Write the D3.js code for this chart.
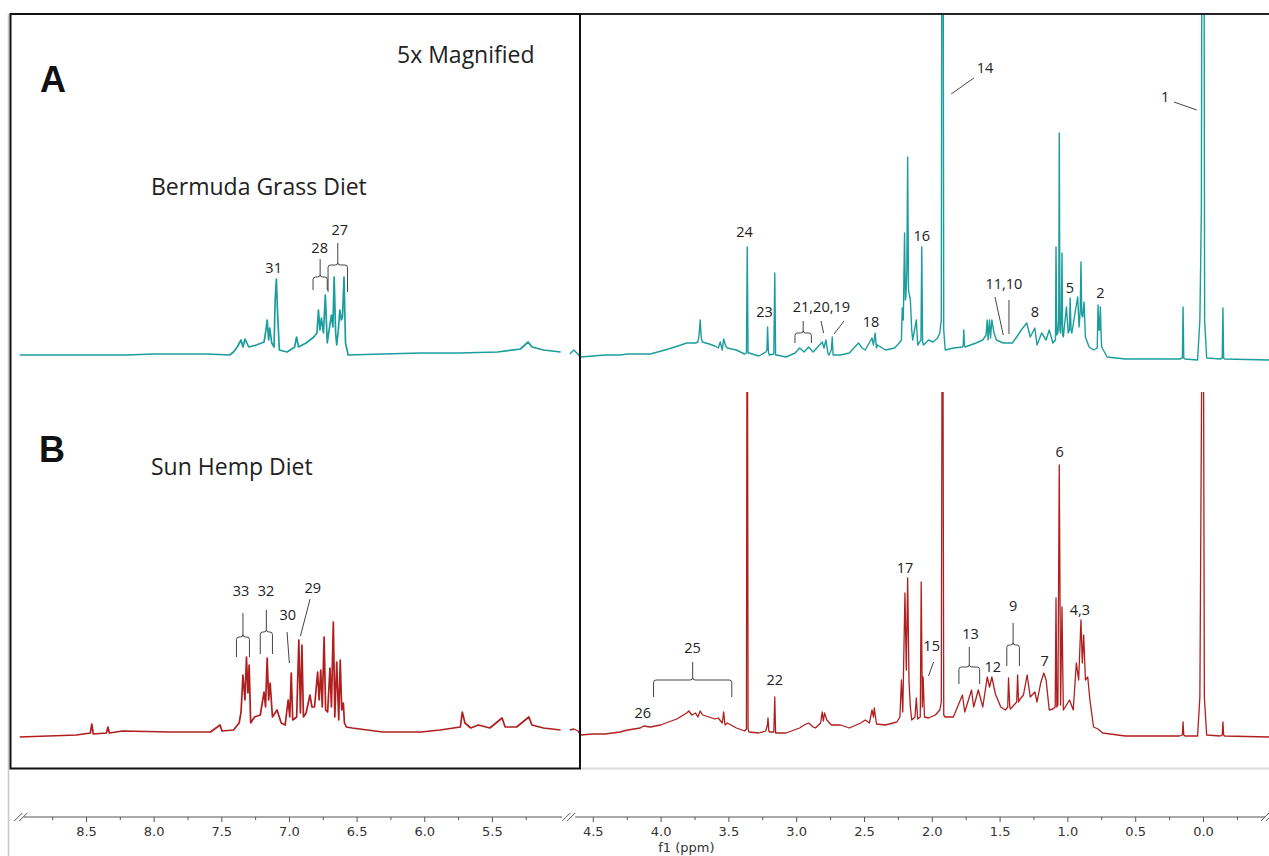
<!DOCTYPE html>
<html><head><meta charset="utf-8">
<script src="https://cdn.jsdelivr.net/npm/d3@7"></script>
<style>body{margin:0;background:#fff;}svg{display:block;}</style>
</head><body>
<svg id="c" width="1269" height="856"></svg>
<script>
// ---------- DATA (ppm, intensity) ----------
// Spectrum A (Bermuda Grass Diet) – aromatic region, 5x magnified
const specA_left = [[8.99,5],[8.80,5],[8.60,5],[8.40,5],[8.20,5],[8.00,6],[7.80,6],[7.60,6],[7.438,5],[7.41,8],[7.382,13],[7.354,20],[7.34,13],[7.325,21],[7.297,13],[7.241,15],[7.184,18],[7.17,30],[7.161,40],[7.15,20],[7.142,32],[7.127,17],[7.11,13],[7.102,60],[7.093,81],[7.085,50],[7.071,10],[7.014,8],[6.958,13],[6.944,23],[6.929,13],[6.873,17],[6.816,23],[6.793,27],[6.782,50],[6.771,30],[6.76,42],[6.745,27],[6.731,65],[6.717,17],[6.703,30],[6.686,45],[6.675,33],[6.666,83],[6.655,27],[6.647,15],[6.635,30],[6.624,50],[6.613,40],[6.604,43],[6.593,83],[6.582,17],[6.562,5],[6.307,6],[6.024,7],[5.741,7],[5.459,8],[5.289,11],[5.232,18],[5.204,13],[5.119,10],[4.992,8]];
// Spectrum A – aliphatic region
const specA_right = [[4.669,6],[4.64,10],[4.61,6],[4.592,3],[4.5,4],[4.409,5],[4.3,5],[4.242,6],[4.15,6],[4.075,6],[3.942,11],[3.85,15],[3.808,17],[3.742,17],[3.725,18],[3.716,25],[3.708,40],[3.7,22],[3.692,18],[3.642,16],[3.6,14],[3.575,12],[3.56,18],[3.545,10],[3.535,21],[3.52,14],[3.508,12],[3.441,10],[3.381,6],[3.367,7],[3.361,113],[3.355,7],[3.348,7],[3.275,4],[3.225,8],[3.216,10],[3.211,33],[3.205,8],[3.198,5],[3.165,6],[3.158,87],[3.152,5],[3.145,5],[3.075,3],[3.008,7],[2.975,12],[2.941,8],[2.908,13],[2.875,8],[2.808,18],[2.795,12],[2.781,20],[2.765,6],[2.758,5],[2.741,10],[2.734,23],[2.728,5],[2.721,5],[2.674,5],[2.608,7],[2.541,17],[2.514,12],[2.491,10],[2.441,22],[2.43,15],[2.418,27],[2.408,12],[2.401,15],[2.341,10],[2.274,12],[2.241,17],[2.224,20],[2.218,52],[2.21,40],[2.201,127],[2.195,60],[2.191,63],[2.184,90],[2.178,203],[2.172,70],[2.168,67],[2.158,60],[2.148,30],[2.141,20],[2.114,40],[2.104,15],[2.08,20],[2.074,113],[2.068,18],[2.061,15],[2.024,20],[1.991,18],[1.957,22],[1.941,27],[1.93,40],[1.924,600],[1.918,600],[1.912,30],[1.901,10],[1.841,12],[1.774,13],[1.768,15],[1.764,30],[1.759,14],[1.754,13],[1.674,17],[1.624,20],[1.6,25],[1.591,40],[1.585,20],[1.574,40],[1.567,22],[1.557,40],[1.541,27],[1.524,20],[1.474,17],[1.407,17],[1.374,23],[1.34,30],[1.3,37],[1.274,23],[1.24,32],[1.224,15],[1.19,27],[1.157,20],[1.134,30],[1.107,17],[1.088,20],[1.084,113],[1.078,25],[1.07,27],[1.064,40],[1.06,227],[1.055,30],[1.05,27],[1.045,40],[1.04,107],[1.035,25],[1.03,23],[1.007,53],[0.994,27],[0.985,30],[0.98,62],[0.973,30],[0.967,27],[0.94,50],[0.924,63],[0.914,33],[0.905,50],[0.9,98],[0.894,45],[0.887,43],[0.877,58],[0.867,23],[0.84,13],[0.807,10],[0.78,12],[0.774,55],[0.767,30],[0.762,30],[0.757,53],[0.75,20],[0.747,13],[0.707,3],[0.573,1],[0.173,1],[0.152,2],[0.147,53],[0.142,2],[0.133,1],[0.04,0],[0.023,40],[0.012,150],[0.006,600],[-0.006,600],[-0.012,40],[-0.027,2],[-0.127,1],[-0.142,2],[-0.147,52],[-0.152,2],[-0.16,1],[-0.487,0]];
// Spectrum B (Sun Hemp Diet) – aromatic region, 5x magnified
const specB_left = [[8.99,0],[8.57,2],[8.468,4],[8.457,13],[8.446,3],[8.349,4],[8.338,10],[8.327,4],[8.231,6],[7.877,5],[7.58,5],[7.509,12],[7.495,6],[7.41,7],[7.368,14],[7.354,25],[7.34,62],[7.325,37],[7.314,80],[7.303,44],[7.294,72],[7.283,14],[7.255,20],[7.212,22],[7.184,45],[7.173,30],[7.161,79],[7.15,37],[7.139,54],[7.122,20],[7.088,27],[7.057,14],[7.028,12],[7.006,37],[6.994,20],[6.983,64],[6.972,17],[6.943,20],[6.927,97],[6.915,24],[6.904,92],[6.893,20],[6.873,24],[6.845,42],[6.83,30],[6.811,30],[6.788,65],[6.777,37],[6.765,67],[6.754,30],[6.74,100],[6.729,27],[6.714,25],[6.697,69],[6.686,30],[6.672,115],[6.661,20],[6.647,75],[6.632,17],[6.621,77],[6.61,27],[6.598,34],[6.59,14],[6.576,10],[6.533,9],[6.307,5],[6.024,5],[5.883,7],[5.733,10],[5.719,25],[5.699,14],[5.656,9],[5.6,12],[5.515,9],[5.425,19],[5.402,10],[5.317,10],[5.227,20],[5.204,12],[5.119,9],[4.992,7]];
// Spectrum B – aliphatic region
const specB_right = [[4.669,7],[4.64,8],[4.609,6],[4.592,2],[4.5,3],[4.409,3],[4.3,5],[4.242,7],[4.15,9],[4.125,11],[4.075,10],[4.0,12],[3.942,15],[3.88,18],[3.808,24],[3.792,26],[3.77,22],[3.742,24],[3.725,20],[3.708,26],[3.69,22],[3.642,20],[3.6,18],[3.575,19],[3.545,14],[3.535,25],[3.525,12],[3.508,14],[3.441,9],[3.381,6],[3.367,8],[3.361,600],[3.355,8],[3.348,5],[3.275,4],[3.225,6],[3.212,12],[3.208,19],[3.202,6],[3.195,5],[3.165,5],[3.158,40],[3.152,4],[3.145,4],[3.075,4],[2.975,9],[2.941,12],[2.908,14],[2.875,10],[2.858,9],[2.82,14],[2.808,25],[2.8,16],[2.791,24],[2.774,17],[2.741,12],[2.674,12],[2.608,9],[2.524,14],[2.49,17],[2.46,14],[2.441,27],[2.43,20],[2.424,29],[2.408,13],[2.341,12],[2.258,15],[2.235,20],[2.224,57],[2.214,25],[2.198,144],[2.188,67],[2.178,159],[2.168,55],[2.158,30],[2.148,17],[2.124,20],[2.114,39],[2.104,18],[2.085,20],[2.078,155],[2.07,30],[2.064,60],[2.054,20],[2.024,19],[1.974,22],[1.941,27],[1.93,35],[1.921,600],[1.912,22],[1.901,20],[1.841,20],[1.774,42],[1.757,25],[1.707,47],[1.691,30],[1.657,47],[1.624,30],[1.591,60],[1.574,50],[1.557,60],[1.531,43],[1.491,30],[1.457,27],[1.44,30],[1.434,59],[1.425,30],[1.42,28],[1.374,35],[1.367,62],[1.36,35],[1.354,37],[1.324,42],[1.297,62],[1.274,40],[1.24,45],[1.224,35],[1.197,54],[1.174,64],[1.157,57],[1.134,27],[1.107,28],[1.09,30],[1.084,139],[1.078,30],[1.07,32],[1.06,272],[1.05,32],[1.04,130],[1.03,27],[1.007,32],[0.984,37],[0.957,27],[0.934,74],[0.917,57],[0.9,117],[0.89,74],[0.88,102],[0.867,57],[0.85,60],[0.834,37],[0.807,10],[0.774,8],[0.74,4],[0.573,1],[0.173,1],[0.152,2],[0.147,15],[0.142,2],[0.133,1],[0.04,1],[0.023,40],[0.0,600],[-0.01,40],[-0.027,2],[-0.127,1],[-0.142,2],[-0.147,15],[-0.152,2],[-0.16,1],[-0.487,0]];

// Axis ticks (ppm)
const majorTicksL = [8.5,8.0,7.5,7.0,6.5,6.0,5.5];
const minorTicksL = [8.75,8.25,7.75,7.25,6.75,6.25,5.75,5.25];
const majorTicksR = [4.5,4.0,3.5,3.0,2.5,2.0,1.5,1.0,0.5,0.0];
const minorTicksR = [4.25,3.75,3.25,2.75,2.25,1.75,1.25,0.75,0.25,-0.25];

// Peak annotations: [label, ppm, intensity]
const labelsA_R = [["14",1.608,292],["1",0.280,263],["24",3.381,128],["16",2.074,124],["23",3.234,48],["21,20,19",2.814,53],["18",2.448,38],["11,10",1.468,76],["8",1.240,48],["5",0.981,72],["2",0.757,67]];
const labelsA_L = [["31",7.113,92],["28",6.773,112],["27",6.624,130]];
const labelsB_R = [["6",1.057,285],["17",2.198,169],["15",2.001,91],["13",1.714,103],["12",1.550,70],["9",1.401,131],["7",1.167,76],["4,3",0.907,127],["22",3.158,57],["25",3.765,89],["26",4.131,24]];
const labelsB_L = [["33",7.354,146],["32",7.170,146],["30",7.009,122],["29",6.824,149]];
// Leader lines: [ppm1, int1, ppm2, int2]
const leadersA_R = [[1.690,282,1.857,266],[0.214,258,0.046,250],[2.817,39,2.798,27],[2.647,39,2.721,26],[1.534,63,1.473,25],[1.431,60,1.431,26]];
const leadersB_R = [[1.987,75,2.024,61]];
const leadersB_L = [[7.014,105,6.997,74],[6.844,138,6.915,101]];
// Brackets: [ppmLeft, ppmRight, intTop, intBottom, intStem]
const bracketsA_R = [[3.009,2.888,27,17,39]];
const bracketsA_L = [[6.822,6.717,83,70,101],[6.711,6.567,95,68,117]];
const bracketsB_R = [[1.800,1.647,70,53,90],[1.447,1.354,92,71,114],[4.052,3.475,57,40,75]];
const bracketsB_L = [[7.388,7.292,100,80,124],[7.212,7.122,105,83,127]];

// ---------- DRAW ----------
const svg = d3.select("#c");
const W = 1269, H = 856;
svg.append("rect").attr("width",W).attr("height",H).attr("fill","#fff");

const xL = d3.scaleLinear().domain([8.5,5.5]).range([86,491.9]);
const xR = d3.scaleLinear().domain([4.5,0.0]).range([592.8,1203]);
const yA = d3.scaleLinear().domain([0,346]).range([360,14]);
const yB = d3.scaleLinear().domain([0,345]).range([737,392]);

const teal = "#1b9d9d", red = "#b01e1e";
const defs = svg.append("defs");
defs.append("clipPath").attr("id","clipA").append("rect").attr("x",0).attr("y",15).attr("width",W).attr("height",400);
defs.append("clipPath").attr("id","clipB").append("rect").attr("x",0).attr("y",392).attr("width",W).attr("height",380);

function drawSpec(data, x, y, color, clip, sw){
  const line = d3.line().x(d=>x(d[0])).y(d=>y(d[1]));
  svg.append("path").datum(data).attr("d",line).attr("fill","none")
     .attr("stroke",color).attr("stroke-width",sw).attr("stroke-linejoin","round")
     .attr("clip-path","url(#"+clip+")");
}
drawSpec(specA_left, xL, yA, teal, "clipA", 1.7);
drawSpec(specA_right, xR, yA, teal, "clipA", 1.4);
drawSpec(specB_left, xL, yB, red, "clipB", 1.7);
drawSpec(specB_right, xR, yB, red, "clipB", 1.3);

// Frames
svg.append("line").attr("x1",8.5).attr("x2",8.5).attr("y1",14).attr("y2",H).attr("stroke","#c8c8c8").attr("stroke-width",1.5);
svg.append("line").attr("x1",580).attr("x2",W).attr("y1",768.5).attr("y2",768.5).attr("stroke","#dcdcdc").attr("stroke-width",2);
svg.append("line").attr("x1",10).attr("x2",W).attr("y1",14).attr("y2",14).attr("stroke","#222").attr("stroke-width",2);
svg.append("rect").attr("x",10.5).attr("y",14).attr("width",569.5).attr("height",754.5).attr("fill","none").attr("stroke","#111").attr("stroke-width",2);

// Annotations
const annFont = "'Open Sans', sans-serif";
function drawLabels(arr, x, y){
  svg.append("g").selectAll("text").data(arr).join("text")
    .attr("x",d=>x(d[1])).attr("y",d=>y(d[2])).attr("dy","0.36em")
    .attr("text-anchor","middle").attr("font-family",annFont).attr("font-size",14.5)
    .attr("fill","#222").text(d=>d[0]);
}
function drawLeaders(arr, x, y){
  svg.append("g").selectAll("line").data(arr).join("line")
    .attr("x1",d=>x(d[0])).attr("y1",d=>y(d[1])).attr("x2",d=>x(d[2])).attr("y2",d=>y(d[3]))
    .attr("stroke","#444").attr("stroke-width",1);
}
function drawBrackets(arr, x, y){
  svg.append("g").selectAll("path").data(arr).join("path")
    .attr("d",d=>{
      const xl=x(d[0]), xr=x(d[1]), yt=y(d[2]), yb=y(d[3]), ys=y(d[4]), cx=(xl+xr)/2, r=2.5;
      return `M${xl},${yb}L${xl},${yt+r}Q${xl},${yt} ${xl+r},${yt}L${cx-r},${yt}Q${cx},${yt} ${cx},${yt-r}L${cx},${ys}`+
             `M${cx},${yt-r}Q${cx},${yt} ${cx+r},${yt}L${xr-r},${yt}Q${xr},${yt} ${xr},${yt+r}L${xr},${yb}`;
    })
    .attr("fill","none").attr("stroke","#444").attr("stroke-width",1);
}
drawLabels(labelsA_R,xR,yA); drawLabels(labelsA_L,xL,yA);
drawLabels(labelsB_R,xR,yB); drawLabels(labelsB_L,xL,yB);
drawLeaders(leadersA_R,xR,yA); drawLeaders(leadersB_R,xR,yB); drawLeaders(leadersB_L,xL,yB);
drawBrackets(bracketsA_R,xR,yA); drawBrackets(bracketsA_L,xL,yA);
drawBrackets(bracketsB_R,xR,yB); drawBrackets(bracketsB_L,xL,yB);

// Titles
const tFont = "'Open Sans', sans-serif";
svg.append("text").attr("x",40).attr("y",92).attr("font-family","'Liberation Sans', Arial, sans-serif").attr("font-weight","bold").attr("font-size",36).attr("fill","#111").text("A");
svg.append("text").attr("x",39).attr("y",462).attr("font-family","'Liberation Sans', Arial, sans-serif").attr("font-weight","bold").attr("font-size",36).attr("fill","#111").text("B");
svg.append("text").attr("x",397).attr("y",63).attr("font-family",tFont).attr("font-size",23).attr("fill","#222").text("5x Magnified");
svg.append("text").attr("x",151).attr("y",195).attr("font-family",tFont).attr("font-size",23).attr("fill","#222").text("Bermuda Grass Diet");
svg.append("text").attr("x",151).attr("y",475).attr("font-family",tFont).attr("font-size",23).attr("fill","#222").text("Sun Hemp Diet");

// Axis
const axY = 817, axCol = "#555";
function drawAxis(x, major, minor){
  const g = svg.append("g").attr("transform",`translate(0,${axY})`);
  g.call(d3.axisBottom(x).tickValues(major).tickSize(5).tickSizeOuter(0).tickFormat(d3.format(".1f")));
  g.select(".domain").remove();
  g.selectAll("line").attr("stroke",axCol);
  g.selectAll("text").attr("font-family","'DejaVu Sans', Verdana, sans-serif").attr("font-size",13).attr("fill","#333").attr("dy","0.85em");
  const m = svg.append("g").attr("transform",`translate(0,${axY})`);
  m.call(d3.axisBottom(x).tickValues(minor).tickSize(3).tickSizeOuter(0).tickFormat(""));
  m.select(".domain").remove();
  m.selectAll("line").attr("stroke",axCol);
}
drawAxis(xL, majorTicksL, minorTicksL);
drawAxis(xR, majorTicksR, minorTicksR);
svg.append("line").attr("x1",xL(8.96)).attr("x2",xL(4.98)).attr("y1",axY).attr("y2",axY).attr("stroke",axCol);
svg.append("line").attr("x1",xR(4.63)).attr("x2",xR(-0.46)).attr("y1",axY).attr("y2",axY).attr("stroke",axCol);
// break marks
function brk(xc){
  [-2.5,2.5].forEach(o=>svg.append("line").attr("x1",xc+o-4).attr("y1",axY+4).attr("x2",xc+o+4).attr("y2",axY-4).attr("stroke",axCol));
}
brk(xL(8.96)-3); brk((xL(4.98)+xR(4.63))/2); brk(xR(-0.46)+2);
svg.append("text").attr("x",xR(3.81)).attr("y",852).attr("text-anchor","middle").attr("font-family","'DejaVu Sans', Verdana, sans-serif").attr("font-size",13).attr("fill","#333").text("f1 (ppm)");
</script>
</body></html>
